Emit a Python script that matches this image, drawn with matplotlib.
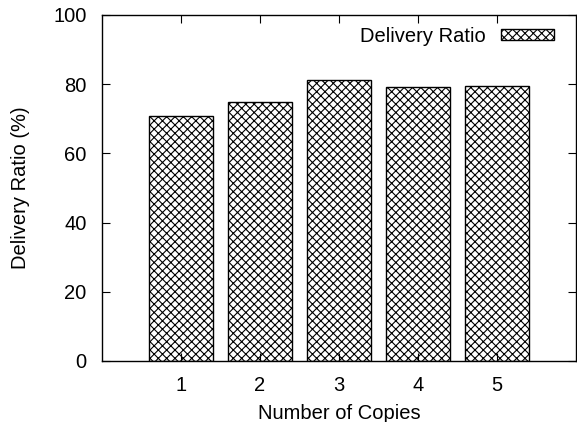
import matplotlib
matplotlib.use('Agg')
import matplotlib.pyplot as plt

# number of copies vs delivery ratio
copies = [1, 2, 3, 4, 5]
ratio = [70.9, 74.9, 81.3, 79.3, 79.4]
yticks = [0, 20, 40, 60, 80, 100]

plt.rcParams['font.family'] = ['Liberation Sans', 'DejaVu Sans']
plt.rcParams['hatch.linewidth'] = 0.8

fig = plt.figure(figsize=(5.77, 4.22), dpi=100)
ax = fig.add_axes([102/577, 1 - 361/422, (576-102)/577, (361-15)/422])

ax.bar(copies, ratio, width=0.8, color='white', edgecolor='black',
       hatch='xxxx', linewidth=1.0, label='Delivery Ratio')

ax.set_xlim(0, 6)
ax.set_ylim(0, 100)
ax.set_xticks(copies)
ax.set_yticks(yticks)
ax.tick_params(direction='in', length=6, width=0.8, labelsize=14.5,
               top=True, right=True, pad=11)
ax.tick_params(axis='x', pad=11)
for s in ax.spines.values():
    s.set_linewidth(1.0)

ax.set_xlabel('Number of Copies', fontsize=14.5, labelpad=6)
ax.set_ylabel('Delivery Ratio (%)', fontsize=14.5, labelpad=17)

ax.legend(loc='upper right', frameon=False, markerfirst=False, fontsize=14.5,
          handlelength=2.65, handleheight=0.45, handletextpad=0.75,
          borderaxespad=0.2, bbox_to_anchor=(0.98, 1.0))

fig.savefig('out.png', dpi=100)
